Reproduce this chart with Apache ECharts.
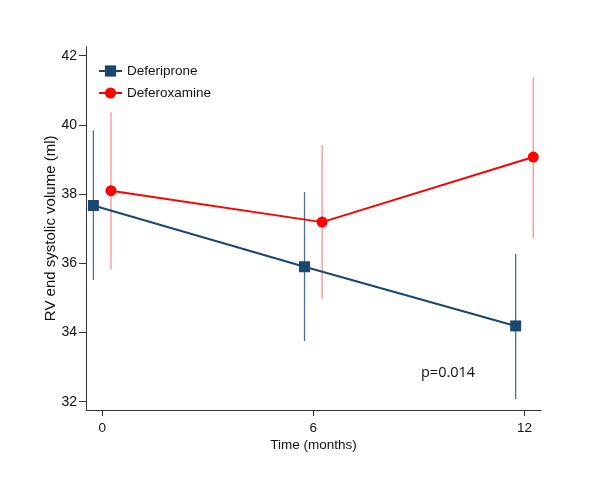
<!DOCTYPE html>
<html>
<head>
<meta charset="utf-8">
<script src="https://cdn.jsdelivr.net/npm/echarts@6/dist/echarts.min.js"></script>
<style>
html,body{margin:0;padding:0;background:#fff;}
#chart{width:600px;height:488px;}
</style>
</head>
<body>
<div id="chart"></div>
<script>
const months = [0, 6, 12];
const deferiproneMean = [37.67, 35.90, 34.19];
const deferiproneLow = [35.52, 33.75, 32.08];
const deferiproneHigh = [39.84, 38.06, 36.27];
const deferoxamineMean = [38.10, 37.19, 39.07];
const deferoxamineLow = [35.83, 34.96, 36.73];
const deferoxamineHigh = [40.36, 39.42, 41.38];
const yTicks = [32, 34, 36, 38, 40, 42];
const xTicks = [0, 6, 12];
const pValueText = 'p=0.014';

const JITTER = 0.25;
const blue = '#1a476f';
const blueCI = '#4d6d93';
const red = '#ff0000';
const redCI = '#ff8f8f';
const font = 'Liberation Sans, Arial, sans-serif';

function pts(mean, dx) { return months.map((m, i) => [m + dx, mean[i]]); }
function bars(low, high, dx) { return months.map((m, i) => [m + dx, low[i], high[i]]); }

function errorSeries(low, high, dx, color) {
  return {
    type: 'custom',
    silent: true,
    z: 1,
    renderItem: function (params, api) {
      const a = api.coord([api.value(0), api.value(1)]);
      const b = api.coord([api.value(0), api.value(2)]);
      return {
        type: 'line',
        shape: { x1: a[0], y1: a[1], x2: b[0], y2: b[1] },
        style: { stroke: color, lineWidth: 1.3 }
      };
    },
    encode: { x: 0, y: [1, 2] },
    data: bars(low, high, dx)
  };
}

const chart = echarts.init(document.getElementById('chart'), null, { renderer: 'canvas' });
chart.setOption({
  animation: false,
  backgroundColor: '#fff',
  grid: { left: 86, right: 59, top: 46.7, bottom: 78, containLabel: false },
  legend: {
    left: 93, top: 59, orient: 'vertical',
    itemWidth: 23, itemHeight: 14, itemGap: 8,
    textStyle: { fontFamily: font, fontSize: 13.5, color: '#111' },
    data: ['Deferiprone', 'Deferoxamine']
  },
  xAxis: {
    type: 'value', min: -0.46, max: 12.47,
    name: 'Time (months)', nameLocation: 'middle', nameGap: 28, nameMoveOverlap: false,
    nameTextStyle: { fontFamily: font, fontSize: 13.5, color: '#111' },
    axisLine: { show: true, onZero: false, lineStyle: { color: '#333', width: 1 } },
    axisTick: { show: true, length: 6, customValues: xTicks, lineStyle: { color: '#333' } },
    axisLabel: { customValues: xTicks, margin: 11, fontFamily: font, fontSize: 13.5, color: '#111' },
    splitLine: { show: false }
  },
  yAxis: {
    type: 'value', min: 31.76, max: 42.26,
    name: 'RV end systolic volume (ml)', nameLocation: 'middle', nameGap: 28, nameMoveOverlap: false,
    nameTextStyle: { fontFamily: font, fontSize: 15, color: '#111' },
    axisLine: { show: true, onZero: false, lineStyle: { color: '#333', width: 1 } },
    axisTick: { show: true, length: 7, customValues: yTicks, lineStyle: { color: '#333' } },
    axisLabel: { customValues: yTicks, margin: 9, fontFamily: font, fontSize: 14, color: '#111' },
    splitLine: { show: false }
  },
  graphic: [{
    type: 'text', left: 421, top: 365,
    style: { text: pValueText, font: '14.5px "Open Sans", sans-serif', fill: '#111' }
  }],
  series: [
    errorSeries(deferiproneLow, deferiproneHigh, -JITTER, blueCI),
    errorSeries(deferoxamineLow, deferoxamineHigh, JITTER, redCI),
    {
      name: 'Deferiprone', type: 'line', z: 3,
      data: pts(deferiproneMean, -JITTER),
      symbol: 'rect', symbolSize: 11,
      lineStyle: { color: blue, width: 2 },
      itemStyle: { color: blue }
    },
    {
      name: 'Deferoxamine', type: 'line', z: 3,
      data: pts(deferoxamineMean, JITTER),
      symbol: 'circle', symbolSize: 11,
      lineStyle: { color: red, width: 2 },
      itemStyle: { color: red }
    }
  ]
});
</script>
</body>
</html>
